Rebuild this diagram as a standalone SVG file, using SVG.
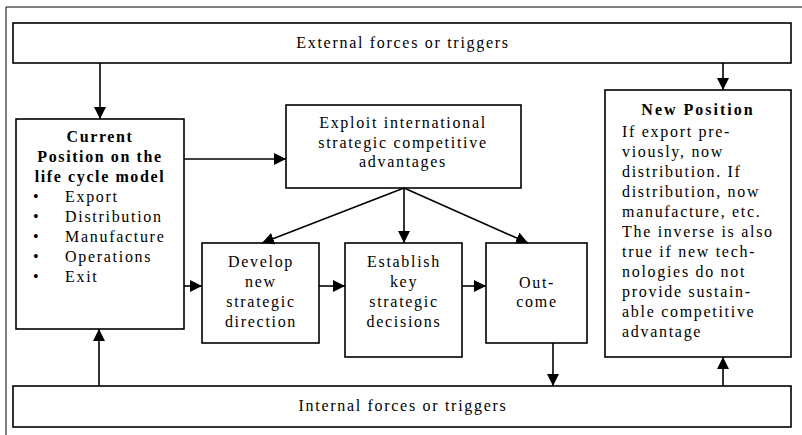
<svg xmlns="http://www.w3.org/2000/svg" width="802" height="435" viewBox="0 0 802 435">
<style>
  .box { fill: #fff; stroke: #000; stroke-width: 1.6; }
  .frame { fill: none; stroke: #000; stroke-width: 1; }
  .t { font-family: "Liberation Serif", "Times New Roman", serif; font-size: 16px; fill: #000; letter-spacing: 1.7px; }
  .c { text-anchor: middle; }
  .b { font-weight: bold; letter-spacing: 1.6px; }
  .conn line { stroke: #000; stroke-width: 1.6; marker-end: url(#ah); }
</style>
<defs>
  <marker id="ah" markerUnits="userSpaceOnUse" markerWidth="12" markerHeight="12" viewBox="0 0 12 12" refX="12" refY="6" orient="auto">
    <path d="M0,0 L12,6 L0,12 z" fill="#000"/>
  </marker>
</defs>
<rect width="802" height="435" fill="#fff"/>
<g id="frame">
  <line class="frame" x1="6" y1="7" x2="802" y2="7"/>
  <line class="frame" x1="6" y1="7" x2="6" y2="435"/>
</g>
<g id="external">
  <rect class="box" x="13" y="23" width="778" height="40"/>
  <text class="t c" x="403" y="48">External forces or triggers</text>
</g>
<g id="internal">
  <rect class="box" x="13" y="386" width="778" height="41"/>
  <text class="t c" x="403" y="411">Internal forces or triggers</text>
</g>
<g id="current">
  <rect class="box" x="16" y="119" width="168" height="210"/>
  <text class="t c b" x="100" y="142">Current</text>
  <text class="t c b" x="100" y="162">Position on the</text>
  <text class="t c b" x="100" y="182">life cycle model</text>
  <text class="t" x="33" y="202">•</text><text class="t" x="65" y="202">Export</text>
  <text class="t" x="33" y="222">•</text><text class="t" x="65" y="222">Distribution</text>
  <text class="t" x="33" y="242">•</text><text class="t" x="65" y="242">Manufacture</text>
  <text class="t" x="33" y="262">•</text><text class="t" x="65" y="262">Operations</text>
  <text class="t" x="33" y="282">•</text><text class="t" x="65" y="282">Exit</text>
</g>
<g id="exploit">
  <rect class="box" x="286" y="105" width="235" height="83"/>
  <text class="t c" x="403" y="128">Exploit international</text>
  <text class="t c" x="403" y="148">strategic competitive</text>
  <text class="t c" x="403" y="167">advantages</text>
</g>
<g id="develop">
  <rect class="box" x="202" y="243" width="117" height="100"/>
  <text class="t c" x="261" y="267">Develop</text>
  <text class="t c" x="261" y="287">new</text>
  <text class="t c" x="261" y="307">strategic</text>
  <text class="t c" x="261" y="327">direction</text>
</g>
<g id="establish">
  <rect class="box" x="345" y="243" width="117" height="114"/>
  <text class="t c" x="404" y="267">Establish</text>
  <text class="t c" x="404" y="287">key</text>
  <text class="t c" x="404" y="307">strategic</text>
  <text class="t c" x="404" y="327">decisions</text>
</g>
<g id="outcome">
  <rect class="box" x="486" y="243" width="101" height="100"/>
  <text class="t c" x="537" y="288">Out-</text>
  <text class="t c" x="537" y="307">come</text>
</g>
<g id="newposition">
  <rect class="box" x="605" y="90" width="186" height="267"/>
  <text class="t c b" x="698" y="115" style="letter-spacing:2px">New Position</text>
  <text class="t" x="622" y="137">If export pre-</text>
  <text class="t" x="622" y="157">viously, now</text>
  <text class="t" x="622" y="177">distribution.  If</text>
  <text class="t" x="622" y="197">distribution, now</text>
  <text class="t" x="622" y="217">manufacture, etc.</text>
  <text class="t" x="622" y="237">The inverse is also</text>
  <text class="t" x="622" y="257">true if new tech-</text>
  <text class="t" x="622" y="277">nologies do not</text>
  <text class="t" x="622" y="297">provide sustain-</text>
  <text class="t" x="622" y="317">able competitive</text>
  <text class="t" x="622" y="337">advantage</text>
</g>
<g id="connectors" class="conn">
  <line x1="100" y1="63" x2="100" y2="119"/>
  <line x1="723" y1="63" x2="723" y2="90"/>
  <line x1="184" y1="159" x2="286" y2="159"/>
  <line x1="184" y1="286" x2="202" y2="286"/>
  <line x1="404" y1="188" x2="262" y2="243"/>
  <line x1="404" y1="188" x2="404" y2="243"/>
  <line x1="404" y1="188" x2="528" y2="243"/>
  <line x1="319" y1="286" x2="345" y2="286"/>
  <line x1="462" y1="286" x2="486" y2="286"/>
  <line x1="99" y1="386" x2="99" y2="329"/>
  <line x1="553" y1="343" x2="553" y2="386"/>
  <line x1="723" y1="386" x2="723" y2="357"/>
</g>
</svg>
